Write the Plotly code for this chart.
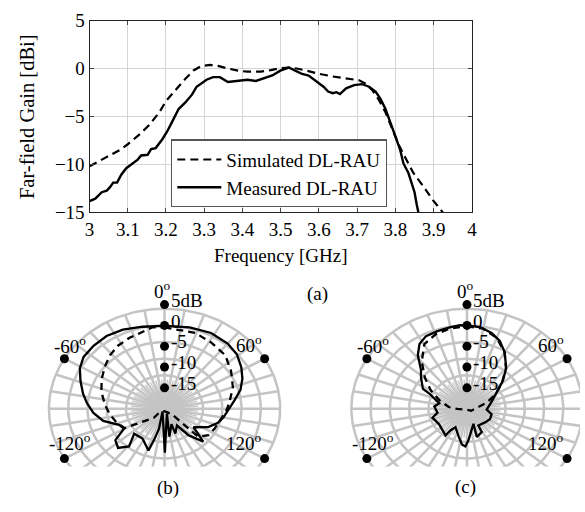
import numpy as np
import plotly.graph_objects as go

# ---------------- (a) far-field gain vs frequency ----------------
freq_sim = [3.000, 3.036, 3.079, 3.100, 3.130, 3.156, 3.182, 3.200, 3.225, 3.250, 3.272, 3.293,
            3.315, 3.336, 3.362, 3.388, 3.413, 3.448, 3.474, 3.499, 3.521, 3.542, 3.568, 3.602,
            3.636, 3.671, 3.705, 3.722, 3.739, 3.756, 3.774, 3.791, 3.808, 3.825, 3.847, 3.872,
            3.898, 3.924]
gain_sim = [-10.2, -9.4, -8.5, -7.9, -6.9, -5.9, -4.6, -3.4, -2.2, -1.1, -0.2, 0.27,
            0.37, 0.27, 0.0, -0.23, -0.33, -0.33, -0.17, 0.03, 0.1, 0.0, -0.23, -0.57,
            -0.83, -1.0, -1.23, -1.57, -2.23, -3.23, -4.57, -6.23, -7.9, -9.23, -10.9, -12.23,
            -13.73, -15.0]

freq_meas = [3.000, 3.015, 3.032, 3.045, 3.053, 3.062, 3.072, 3.083, 3.096, 3.113, 3.126, 3.135,
             3.152, 3.161, 3.173, 3.190, 3.203, 3.216, 3.233, 3.250, 3.268, 3.280, 3.293, 3.306,
             3.323, 3.341, 3.362, 3.388, 3.413, 3.435, 3.456, 3.478, 3.499, 3.521, 3.538, 3.556,
             3.573, 3.594, 3.612, 3.624, 3.636, 3.646, 3.655, 3.671, 3.692, 3.713, 3.731, 3.748,
             3.761, 3.774, 3.787, 3.800, 3.813, 3.821, 3.834, 3.850, 3.856, 3.860]
gain_meas = [-13.83, -13.57, -12.9, -12.73, -12.4, -11.9, -11.9, -11.07, -10.4, -9.9, -9.5, -9.07,
             -9.0, -8.4, -8.3, -7.4, -6.57, -5.57, -4.23, -3.57, -2.73, -1.9, -1.57, -1.17,
             -0.9, -0.9, -1.4, -1.3, -1.17, -1.3, -1.0, -0.73, -0.23, 0.1, -0.23, -0.57,
             -0.73, -1.4, -1.9, -2.4, -2.57, -2.47, -2.67, -2.07, -1.73, -1.63, -1.9, -2.4,
             -3.17, -4.23, -5.57, -7.07, -8.57, -9.9, -10.9, -12.9, -14.23, -15.0]

x_tickvals = [3.0, 3.1, 3.2, 3.3, 3.4, 3.5, 3.6, 3.7, 3.8, 3.9, 4.0]
x_ticktext = ["3", "3.1", "3.2", "3.3", "3.4", "3.5", "3.6", "3.7", "3.8", "3.9", "4"]
y_tickvals = [-15, -10, -5, 0, 5]
y_ticktext = ["\u221215", "\u221210", "\u22125", "0", "5"]

# ---------------- (b) radiation pattern ----------------
b_meas_theta = [0, 15, 28, 40, 49, 58, 66, 74, 82, 90, 100, 107, 116, 126.6, 134.6, 142, 147.5,
                159.5, 158.8, 171.4, 157, 179.6, -149, -166.5, -163.9, -161.7, -147.4, -133.7,
                -141, -134.4, -126.5, -119.8, -112.5, -103, -94, -85, -78, -69, -61, -53.5, -44.3,
                -34.6, -24.5, -13, 0]
b_meas_gain = [-0.1, 0.2, 0.6, 0.4, -0.1, -1.2, -2.3, -3.6, -5.3, -6.6, -7.6, -8.4, -9.9, -12.5,
               -8.7, -11.9, -15.2, -13.6, -16.0, -13.2, -18.75, -9.4, -19.2, -15.0, -12.2, -9.4,
               -11.5, -11.3, -8.3, -6.5, -7.3, -10.3, -9.8, -6.95, -5.2, -3.8, -2.7, -1.3, 0.1,
               0.9, 1.1, 1.2, 0.85, 0.2, -0.1]
b_sim_theta = [0, 19.2, 31.5, 44.5, 56.9, 70, 84.4, 92.7, 114.6, 125, 134, 133.5, 131.5, 180,
               -131, -134.6, -120.7, -119.5, -108.3, -96.9, -85.7, -73, -61.6, -50.7, -41.5,
               -32.6, -23.1, -13.8, -7.3, 0]
b_sim_gain = [-0.5, -0.7, -1.4, -2.0, -3.5, -4.9, -6.5, -7.2, -8.55, -8.9, -10.3, -14.1, -17.9,
              -19.4, -18.5, -16.9, -12.3, -10.5, -9.5, -8.55, -7.6, -6.3, -5.15, -4.0, -2.9,
              -2.05, -1.5, -0.9, -0.3, -0.5]

# ---------------- (c) radiation pattern ----------------
c_meas_theta = [0, 7.9, 15.7, 22.7, 29.9, 39.9, 48.2, 52.9, 59.5, 71.7, 93.2, 105, 118, 131.4,
                149.7, 151.4, 163.2, 159.8, 168.1, 177.4, -177.9, -173.3, -165.9, -151.9, -146.9,
                -145.2, -122.5, -106.8, -99.3, -85.5, -77.2, -65.2, -62.6, -52, -45.5, -38.5,
                -32.4, -26, -18.2, -9.9, -3.9, 0]
c_meas_gain = [0.0, -0.2, -1.1, -2.35, -4.3, -7.3, -10.0, -11.5, -12.9, -14.6, -15.9, -14.7,
               -14.6, -15.0, -15.3, -13.6, -12.9, -16.1, -15.05, -12.5, -10.9, -11.3, -13.0,
               -14.95, -13.8, -12.2, -13.1, -12.5, -13.8, -13.2, -14.1, -11.4, -9.7, -7.9, -6.6,
               -3.6, -1.6, -0.6, -0.4, -0.1, 0.1, 0.0]
c_sim_theta = [0, 10, 20, 30, 40, 50.4, 60.8, 70.3, 81, 120, 180, -92, -84.2, -70.3, -59.7,
               -49.5, -39.7, -29.7, -20, -10, 0]
c_sim_gain = [-0.2, -0.5, -1.9, -4.4, -7.4, -10.7, -13.4, -15.7, -17.6, -19.0, -19.7, -18.0,
              -16.2, -13.9, -11.3, -8.5, -5.3, -2.15, -1.0, -0.4, -0.2]

# polar grid / labels
r_min = -20
ring_levels = [-16, -12, -8, -4, 0, 4]
spoke_angles = list(range(0, 360, 10))
fine_spoke_angles = [a + 5 for a in range(0, 360, 10)]
db_label_levels = [5, 0, -5, -10, -15]
db_label_text = ["5dB", "0", "-5", "-10", "-15"]
angle_label_angles = [-60, 60, -120, 120]
angle_label_text = ["-60<sup>o</sup>", "60<sup>o</sup>", "-120<sup>o</sup>", "120<sup>o</sup>"]
zero_label_text = "0<sup>o</sup>"

FONT = "Liberation Serif"
W, H = 585, 512
SX, SY = 4.9, 4.34   # px per dB unit horizontally / vertically in the pattern plots


def to_xy(theta_deg, gain):
    u = np.asarray(gain, dtype=float) - r_min
    t = np.radians(np.asarray(theta_deg, dtype=float))
    return u * np.sin(t), u * np.cos(t)


def grid_xy():
    gx, gy = [], []
    th = np.arange(0, 361, 2)
    for lev in ring_levels:
        x, y = to_xy(th, [lev] * len(th))
        gx += list(x) + [None]
        gy += list(y) + [None]
    sx, sy = [], []
    for a in spoke_angles:
        x, y = to_xy([a, a], [r_min, ring_levels[-1]])
        sx += list(x) + [None]
        sy += list(y) + [None]
    fx, fy = [], []
    for a in fine_spoke_angles:
        x, y = to_xy([a, a], [r_min, -13])
        fx += list(x) + [None]
        fy += list(y) + [None]
    return (gx, gy), (sx, sy), (fx, fy)


fig = go.Figure()

# (a)
fig.add_trace(go.Scatter(x=freq_sim, y=gain_sim, mode="lines", name="Simulated DL-RAU",
                         line=dict(color="black", width=2.2, dash="8px,5px"),
                         xaxis="x", yaxis="y"))
fig.add_trace(go.Scatter(x=freq_meas, y=gain_meas, mode="lines", name="Measured DL-RAU",
                         line=dict(color="black", width=2.4),
                         xaxis="x", yaxis="y"))

TF = dict(family=FONT, size=19, color="black")
annotations = []


def add_label(cx, cy, xd, yd, text, xanchor, shift_x, shift_y):
    # place a label next to a pattern-plot point (data units -> paper fraction)
    px = cx + xd * SX + shift_x
    py = cy - yd * SY - shift_y
    annotations.append(dict(x=px / W, y=1 - py / H, xref="paper", yref="paper", text=text,
                            showarrow=False, xanchor=xanchor, yanchor="middle", font=TF))


def add_pattern(xa, ya, cx, cy, meas_t, meas_g, sim_t, sim_g):
    (gx, gy), (sx, sy), (fx, fy) = grid_xy()
    gc = "#c4c4c4"
    fig.add_trace(go.Scatter(x=fx, y=fy, mode="lines", line=dict(color=gc, width=1.2),
                             showlegend=False, hoverinfo="skip", xaxis=xa, yaxis=ya))
    fig.add_trace(go.Scatter(x=sx, y=sy, mode="lines", line=dict(color=gc, width=2.5),
                             showlegend=False, hoverinfo="skip", xaxis=xa, yaxis=ya))
    fig.add_trace(go.Scatter(x=gx, y=gy, mode="lines", line=dict(color=gc, width=2.5),
                             showlegend=False, hoverinfo="skip", xaxis=xa, yaxis=ya))
    x, y = to_xy(sim_t, sim_g)
    fig.add_trace(go.Scatter(x=x, y=y, mode="lines", line=dict(color="black", width=2.3, dash="7px,5px"),
                             showlegend=False, xaxis=xa, yaxis=ya))
    x, y = to_xy(meas_t, meas_g)
    fig.add_trace(go.Scatter(x=x, y=y, mode="lines", line=dict(color="black", width=2.3),
                             showlegend=False, xaxis=xa, yaxis=ya))
    # label dots
    dx1, dy1 = to_xy([0] * len(db_label_levels), db_label_levels)
    dx2, dy2 = to_xy(angle_label_angles, [ring_levels[-1]] * len(angle_label_angles))
    fig.add_trace(go.Scatter(x=list(dx1) + list(dx2), y=list(dy1) + list(dy2), mode="markers",
                             marker=dict(color="black", size=9), cliponaxis=False,
                             showlegend=False, hoverinfo="skip", xaxis=xa, yaxis=ya))
    for xv, yv, txt in zip(dx1, dy1, db_label_text):
        add_label(cx, cy, xv, yv, txt, "left", 4.5, 4.5)
    add_label(cx, cy, dx1[0], dy1[0], zero_label_text, "center", -2, 15)
    for xv, yv, a, txt in zip(dx2, dy2, angle_label_angles, angle_label_text):
        if a < 0:
            add_label(cx, cy, xv, yv, txt, "center", 6, 14 if a == -60 else 17)
        else:
            add_label(cx, cy, xv, yv, txt, "right", -1, 15 if a == 60 else 17)


B_C = (162.3, 415.7)
C_C = (470.0, 415.7)
add_pattern("x2", "y2", *B_C, b_meas_theta, b_meas_gain, b_sim_theta, b_sim_gain)
add_pattern("x3", "y3", *C_C, c_meas_theta, c_meas_gain, c_sim_theta, c_sim_gain)

bare = dict(showticklabels=False, showgrid=False, zeroline=False,
            showline=False, ticks="", fixedrange=True)


def pattern_axes(cx, cy, left, right, top, bottom):
    xa = dict(domain=[left / W, right / W], range=[(left - cx) / SX, (right - cx) / SX], **bare)
    ya = dict(domain=[1 - bottom / H, 1 - top / H], range=[(cy - bottom) / SY, (cy - top) / SY],
              **bare)
    return xa, ya


xa2, ya2 = pattern_axes(*B_C, 20, 305, 286, 476)
xa3, ya3 = pattern_axes(*C_C, 315, 585, 286, 476)
xa2["anchor"] = "y2"; ya2["anchor"] = "x2"
xa3["anchor"] = "y3"; ya3["anchor"] = "x3"

axis_font = dict(family=FONT, size=19, color="black")
lab = dict(family=FONT, size=19, color="black")
annotations += [
    dict(x=280.5 / W, y=1 - 256 / H, xref="paper", yref="paper", text="Frequency [GHz]",
         showarrow=False, xanchor="center", yanchor="middle", font=lab),
    dict(x=23 / W, y=1 - 111 / H, xref="paper", yref="paper", text="Far-field Gain [dBi]",
         showarrow=False, xanchor="center", yanchor="middle", textangle=-90,
         font=dict(family=FONT, size=20.5, color="black")),
    dict(x=318 / W, y=1 - 296 / H, xref="paper", yref="paper", text="(a)",
         showarrow=False, xanchor="center", yanchor="middle", font=lab),
    dict(x=166 / W, y=1 - 498 / H, xref="paper", yref="paper", text="(b)",
         showarrow=False, xanchor="center", yanchor="middle", font=lab),
    dict(x=469 / W, y=1 - 497 / H, xref="paper", yref="paper", text="(c)",
         showarrow=False, xanchor="center", yanchor="middle", font=lab),
]

fig.update_layout(
    width=W, height=H,
    margin=dict(l=0, r=0, t=0, b=0),
    paper_bgcolor="white", plot_bgcolor="white",
    font=dict(family=FONT, size=19, color="black"),
    xaxis=dict(domain=[86 / W, 475 / W], range=[3, 4], tickvals=x_tickvals, ticktext=x_ticktext,
               showgrid=True, gridcolor="#d4d4d4", gridwidth=1, zeroline=False,
               showline=True, linecolor="#222", linewidth=1.2, mirror="ticks",
               ticks="inside", ticklen=4, tickcolor="#444", tickfont=axis_font,
               anchor="y", fixedrange=True),
    yaxis=dict(domain=[1 - 211 / H, 1 - 11 / H], range=[-15, 5], tickvals=y_tickvals,
               ticktext=y_ticktext, showgrid=True, gridcolor="#d4d4d4", gridwidth=1,
               zeroline=False, showline=True, linecolor="#222", linewidth=1.2, mirror="ticks",
               ticks="inside", ticklen=4, tickcolor="#444", tickfont=axis_font,
               anchor="x", fixedrange=True),
    xaxis2=xa2, yaxis2=ya2, xaxis3=xa3, yaxis3=ya3,
    legend=dict(x=169 / W, y=1 - 135 / H, xanchor="left", yanchor="top",
                bgcolor="white", bordercolor="#555", borderwidth=1.2, itemwidth=44,
                font=dict(family=FONT, size=19, color="black"), tracegroupgap=0),
    annotations=annotations,
    showlegend=True,
)

fig.write_html("out.html", config={"displayModeBar": False},
               post_script="document.body.style.margin='0px';")
